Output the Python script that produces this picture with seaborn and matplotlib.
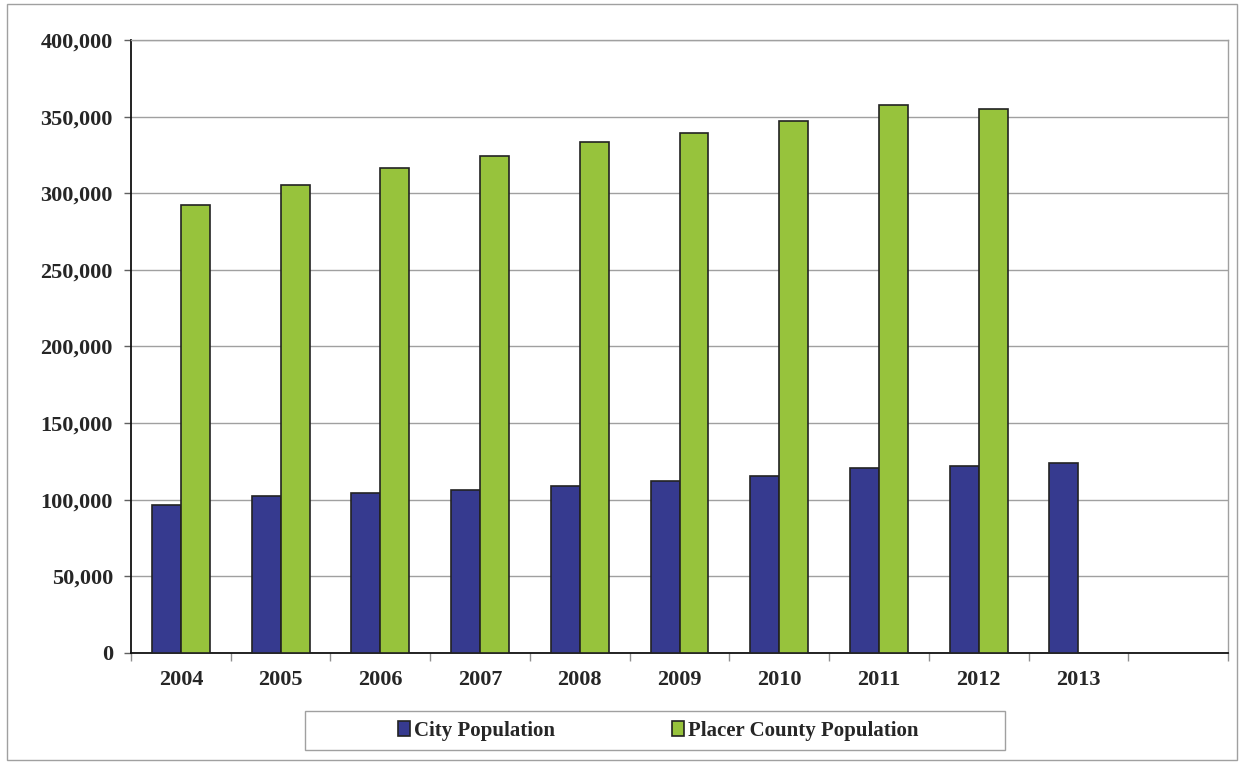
import numpy as np
import pandas as pd
import seaborn as sns
import matplotlib.pyplot as plt
from matplotlib.patches import Rectangle
from matplotlib.ticker import FuncFormatter

## Data
years = ['2004', '2005', '2006', '2007', '2008', '2009', '2010', '2011', '2012', '2013']
city_pop = [96600, 102200, 104600, 106400, 109200, 112400, 115700, 120700, 122000, 124200]
county_pop = [292300, 305600, 316500, 324400, 333500, 339500, 347100, 357300, 355300, np.nan]

df = pd.DataFrame({
    'year': years * 2,
    'population': city_pop + county_pop,
    'series': ['City Population'] * len(years) + ['Placer County Population'] * len(years),
})

sns.set_theme(style='white')
plt.rcParams['font.family'] = ['Liberation Serif', 'DejaVu Serif']
plt.rcParams['font.weight'] = 'bold'

W, H = 1244, 764
fig = plt.figure(figsize=(W / 100, H / 100), dpi=100)
ax = fig.add_axes([131 / W, 111 / H, 1097 / W, 613 / H])

palette = {'City Population': '#363a8f', 'Placer County Population': '#97c33c'}
sns.barplot(data=df, x='year', y='population', hue='series', order=years,
            palette=palette, width=0.58, gap=0, edgecolor='#222222',
            linewidth=1.2, saturation=1, ax=ax, zorder=3)

ax.set_xlim(-0.5, 10.5)
ax.set_ylim(0, 400000)
ax.set_yticks(np.arange(0, 400001, 50000))
ax.yaxis.set_major_formatter(FuncFormatter(lambda v, p: f'{v:,.0f}'))
ax.grid(axis='y', color='#a0a0a0', linewidth=1, zorder=0)
ax.set_axisbelow(True)

ax.set_xticks(range(len(years)))
ax.set_xticklabels(years)
ax.set_xticks(np.arange(-0.5, 10.6, 1), minor=True)
ax.tick_params(axis='x', which='major', length=0, pad=12, labelsize=16)
ax.tick_params(axis='x', which='minor', length=6, width=1, color='#909090', bottom=True)
ax.tick_params(axis='y', which='major', length=5, width=1, color='#606060', left=True,
               pad=8, labelsize=16)
for lab in ax.get_xticklabels() + ax.get_yticklabels():
    lab.set_fontweight('bold')
ax.set_xlabel('')
ax.set_ylabel('')

for side in ['left', 'bottom']:
    ax.spines[side].set_color('#111111')
    ax.spines[side].set_linewidth(1.3)
for side in ['top', 'right']:
    ax.spines[side].set_color('#a0a0a0')
    ax.spines[side].set_linewidth(1)

handles, labels = ax.get_legend_handles_labels()
ax.get_legend().remove()
leg = fig.legend(handles, labels, loc='center', bbox_to_anchor=(658 / W, 1 - 731 / H),
                 ncol=2, frameon=False,
                 prop={'family': 'Liberation Serif', 'weight': 'bold', 'size': 15},
                 handlelength=0.58, handleheight=0.75, handletextpad=0.2,
                 columnspacing=5.6, borderpad=0.3)

# legend box
fig.patches.append(Rectangle((305 / W, 1 - 750 / H), 700 / W, 39 / H,
                             transform=fig.transFigure, fill=False,
                             edgecolor='#a0a0a0', linewidth=1))
# outer frame around the chart
fig.patches.append(Rectangle((7 / W, 4 / H), 1230 / W, 756 / H,
                             transform=fig.transFigure, fill=False,
                             edgecolor='#a0a0a0', linewidth=1))

fig.savefig('out.png', dpi=100)
